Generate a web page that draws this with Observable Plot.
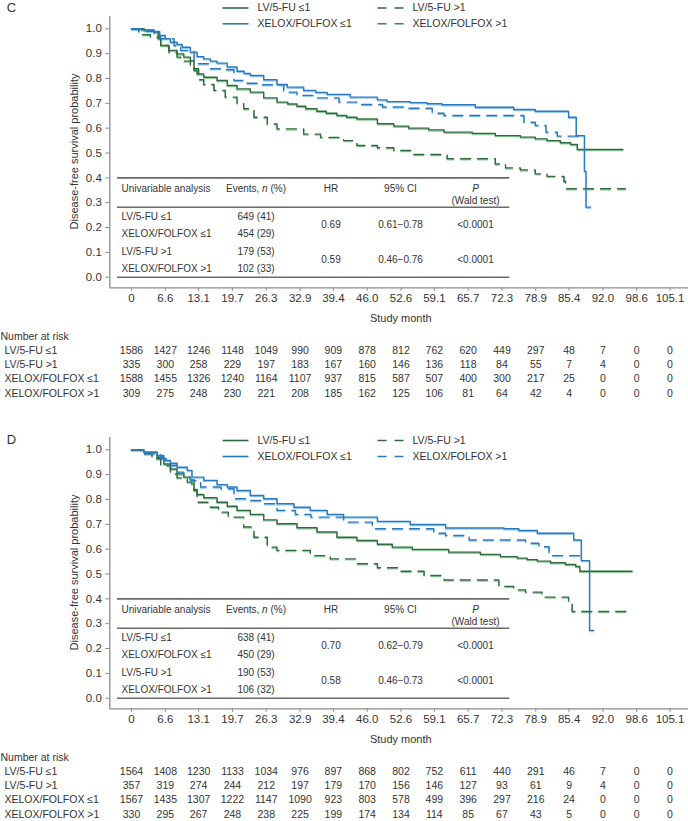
<!DOCTYPE html>
<html><head><meta charset="utf-8">
<script src="https://cdn.jsdelivr.net/npm/d3@7"></script>
<script src="https://cdn.jsdelivr.net/npm/@observablehq/plot@0.6"></script>
<style>
body{margin:0;background:#fff;}
#fig{width:688px;height:821px;position:relative;overflow:hidden;background:#fff;}
#fig svg{display:block;}
</style></head><body><div id="fig"></div>
<script>
// ---------- data ----------
const xTickLabels = ["0","6.6","13.1","19.7","26.3","32.9","39.4","46.0","52.6","59.1","65.7","72.3","78.9","85.4","92.0","98.6","105.1"];
const yTickValues = [0,0.1,0.2,0.3,0.4,0.5,0.6,0.7,0.8,0.9,1.0];
const groupLabels = ["LV/5-FU ≤1","LV/5-FU >1","XELOX/FOLFOX ≤1","XELOX/FOLFOX >1"];
const statsHeader = ["Univariable analysis","Events, n (%)","HR","95% CI","P","(Wald test)"];

// Panel C curves (month, survival)
const C_LVle1_t = [0,2.5,4.4,5.2,5.7,7.3,8.9,10.2,11.5,12.2,12.8,14.1,16.7,18.7,20.6,23.2,25.8,28.4,30.5,32.3,34.0,36.2,38.0,40.1,42.0,44.0,48.0,51.2,54.1,58.0,61.0,66.5,71.0,75.9,78.8,81.1,83.7,85.7,87.0,95.9];
const C_LVle1_s = [1.0,0.993,0.987,0.960,0.933,0.913,0.899,0.886,0.872,0.832,0.818,0.805,0.792,0.772,0.758,0.745,0.722,0.705,0.697,0.688,0.678,0.668,0.660,0.651,0.644,0.637,0.618,0.608,0.600,0.593,0.584,0.579,0.570,0.564,0.557,0.550,0.541,0.534,0.514,0.514];
const C_LVgt1_t = [0,1.4,3.7,5.7,7.3,8.9,9.6,11.5,13.1,14.1,16.1,18.3,20.6,21.9,23.9,26.5,28.4,33.6,36.9,41.4,44.0,48.0,51.2,55.1,61.6,71.0,73.0,75.9,78.8,81.1,84.4,84.7,96.4];
const C_LVgt1_s = [1.0,0.976,0.966,0.933,0.906,0.886,0.870,0.839,0.795,0.776,0.752,0.725,0.698,0.678,0.644,0.617,0.597,0.576,0.563,0.550,0.530,0.521,0.510,0.494,0.477,0.456,0.440,0.432,0.416,0.406,0.386,0.356,0.356];
const C_XEle1_t = [0,2.0,4.4,5.5,6.6,7.6,8.9,9.9,11.5,12.8,14.1,15.4,16.7,18.7,20.6,22.0,23.2,25.8,28.4,30.4,33.6,36.0,38.2,42.7,48.0,49.9,54.4,57.7,60.6,67.1,74.6,78.8,85.3,86.8,88.4,88.7,89.6];
const C_XEle1_s = [1.0,0.995,0.989,0.973,0.960,0.946,0.937,0.926,0.906,0.888,0.879,0.870,0.862,0.846,0.829,0.820,0.812,0.795,0.776,0.765,0.752,0.744,0.736,0.725,0.714,0.707,0.703,0.698,0.694,0.684,0.675,0.668,0.644,0.570,0.426,0.282,0.282];
const C_XEgt1_t = [0,2.5,4.4,5.5,8.3,9.6,12.2,15.4,17.4,20.0,21.9,25.5,29.7,32.3,36.0,40.5,44.0,49.0,53.5,58.7,61.0,76.6,78.8,80.9,83.1,88.3];
const C_XEgt1_s = [1.0,0.990,0.979,0.960,0.933,0.913,0.859,0.839,0.835,0.792,0.781,0.775,0.745,0.732,0.722,0.705,0.695,0.685,0.680,0.660,0.651,0.624,0.611,0.584,0.568,0.568];

// Panel D curves
const D_LVle1_t = [0,2.4,5.0,6.3,7.6,8.9,10.2,11.5,12.2,12.8,14.1,16.7,18.7,20.6,23.2,25.8,28.4,32.3,36.2,40.1,44.0,48.0,50.9,54.8,61.9,68.1,72.0,75.3,77.2,79.2,81.8,84.7,86.7,87.5,97.7];
const D_LVle1_s = [1.0,0.990,0.970,0.943,0.923,0.903,0.890,0.879,0.836,0.820,0.807,0.789,0.773,0.756,0.740,0.718,0.702,0.686,0.669,0.648,0.635,0.620,0.608,0.599,0.588,0.579,0.570,0.564,0.558,0.552,0.545,0.538,0.530,0.511,0.511];
const D_LVgt1_t = [0,1.8,4.0,5.7,7.6,8.9,10.9,11.8,12.8,15.4,17.0,18.9,21.9,23.9,26.5,28.4,34.9,38.8,44.0,48.0,51.9,57.1,61.0,71.7,74.6,76.9,80.1,85.3,86.0,97.4];
const D_LVgt1_s = [1.0,0.984,0.964,0.937,0.903,0.887,0.870,0.840,0.789,0.769,0.749,0.729,0.689,0.648,0.608,0.595,0.574,0.561,0.541,0.525,0.511,0.494,0.476,0.450,0.436,0.427,0.407,0.383,0.349,0.349];
const D_XEle1_t = [0,2.4,5.0,6.3,7.6,8.9,10.9,11.8,14.1,16.7,18.7,20.6,23.2,25.8,28.4,31.7,34.9,38.2,41.4,48.0,54.4,61.3,72.7,75.6,79.2,86.3,87.8,89.4,90.2];
const D_XEle1_s = [1.0,0.990,0.977,0.957,0.946,0.930,0.917,0.890,0.877,0.860,0.850,0.836,0.816,0.803,0.783,0.769,0.756,0.740,0.729,0.712,0.699,0.685,0.682,0.675,0.664,0.637,0.554,0.273,0.273];
const D_XEgt1_t = [0,2.4,5.7,7.0,8.9,10.2,11.5,13.5,17.5,20.0,23.2,25.8,28.4,32.0,35.0,41.4,47.0,59.0,61.3,65.9,76.9,79.5,81.5,82.1,88.3];
const D_XEgt1_s = [1.0,0.984,0.964,0.937,0.910,0.890,0.877,0.850,0.843,0.803,0.796,0.783,0.756,0.740,0.729,0.709,0.682,0.664,0.655,0.637,0.624,0.610,0.588,0.574,0.574];

// Number at risk (order: LV ≤1, LV >1, XELOX ≤1, XELOX >1)
const C_risk_LVle1 = [1586,1427,1246,1148,1049,990,909,878,812,762,620,449,297,48,7,0,0];
const C_risk_LVgt1 = [335,300,258,229,197,183,167,160,146,136,118,84,55,7,4,0,0];
const C_risk_XEle1 = [1588,1455,1326,1240,1164,1107,937,815,587,507,400,300,217,25,0,0,0];
const C_risk_XEgt1 = [309,275,248,230,221,208,185,162,125,106,81,64,42,4,0,0,0];
const D_risk_LVle1 = [1564,1408,1230,1133,1034,976,897,868,802,752,611,440,291,46,7,0,0];
const D_risk_LVgt1 = [357,319,274,244,212,197,179,170,156,146,127,93,61,9,4,0,0];
const D_risk_XEle1 = [1567,1435,1307,1222,1147,1090,923,803,578,499,396,297,216,24,0,0,0];
const D_risk_XEgt1 = [330,295,267,248,238,225,199,174,134,114,85,67,43,5,0,0,0];

// Univariable analysis tables (rows: LV ≤1, XELOX ≤1, LV >1, XELOX >1)
const C_events = ["649 (41)","454 (29)","179 (53)","102 (33)"];
const C_hr = ["0.69","0.59"];
const C_ci = ["0.61−0.78","0.46−0.76"];
const C_p = ["<0.0001","<0.0001"];
const D_events = ["638 (41)","450 (29)","190 (53)","106 (32)"];
const D_hr = ["0.70","0.58"];
const D_ci = ["0.62−0.79","0.46−0.73"];
const D_p = ["<0.0001","<0.0001"];

// ---------- layout ----------
const W = 688;
const X0PX = 131, PX_PER_MONTH = 5.124;
const Y1PX = 28.3, Y0PX = 276.7, PX_PER_UNIT = Y0PX - Y1PX;
const FRAME_TOP = 16, AXIS_PX = 287.3, FRAME_LEFT = 109.3;
const px2x = px => (px - X0PX) / PX_PER_MONTH;
const py2y = py => (Y0PX - py) / PX_PER_UNIT;
const xDomain = [px2x(FRAME_LEFT), px2x(W)];
const yDomain = [py2y(AXIS_PX), py2y(FRAME_TOP)];
const xTickValues = xTickLabels.map(Number);
const tickLabelOf = new Map(xTickValues.map((v, i) => [v, xTickLabels[i]]));

const GREEN = "#2d6b3c", GREEN_L = "#93cc9c", BLUE = "#2a79be", BLUE_L = "#95c9ee";
const AXIS = "#8c8c8c", TXT = "#333";
const groupColor = [GREEN, GREEN, BLUE, BLUE];
const groupHalo = [GREEN_L, GREEN_L, BLUE_L, BLUE_L];
const groupDash = [null, "10,7", null, "10,7"];
const statsOrder = [0, 2, 1, 3];

function makePanel(cfg) {
  const H = cfg.height;
  const marks = [];
  // axis lines
  marks.push(Plot.ruleX([xDomain[0]], {stroke: AXIS, strokeWidth: 1.3}));
  marks.push(Plot.ruleY([yDomain[0]], {stroke: AXIS, strokeWidth: 1.3}));
  marks.push(Plot.axisY({ticks: yTickValues, tickFormat: d3.format(".1f"), tickSize: 4, tickPadding: 4, fontSize: 11.5, stroke: AXIS, fill: TXT, label: null}));
  marks.push(Plot.axisX({ticks: xTickValues, tickFormat: d => tickLabelOf.get(d), tickSize: 3.5, tickPadding: 3, fontSize: 11.5, stroke: AXIS, fill: TXT, label: null}));
  marks.push(Plot.text(["Disease-free survival probability"], {x: px2x(74), y: py2y(151), rotate: -90, fontSize: 11, fill: TXT}));
  marks.push(Plot.text(["Study month"], {x: (xTickValues[0] + xTickValues[xTickValues.length - 1]) / 2, y: py2y(318), fontSize: 11, fill: TXT}));

  // univariable table
  const tL = px2x(117), tR = px2x(509.3);
  marks.push(Plot.ruleY([0.4, py2y(206.7), 0], {x1: tL, x2: tR, stroke: "#6a6a6a", strokeWidth: 1.6}));
  const colLabel = px2x(121), colEv = px2x(255.5), colHR = px2x(330.5), colCI = px2x(400), colP = px2x(475);
  const hy = py2y(188.3);
  marks.push(Plot.text([statsHeader[0]], {x: colLabel, y: hy, textAnchor: "start", fontSize: 10, fill: TXT}));
  marks.push(Plot.text([statsHeader[1]], {x: colEv, y: hy, fontSize: 10, fill: TXT}));
  marks.push(Plot.text([statsHeader[2]], {x: colHR, y: hy, fontSize: 10, fill: TXT}));
  marks.push(Plot.text([statsHeader[3]], {x: colCI, y: hy, fontSize: 10, fill: TXT}));
  marks.push(Plot.text([statsHeader[4]], {x: colP, y: hy, fontSize: 10, fill: TXT, fontStyle: "italic"}));
  marks.push(Plot.text([statsHeader[5]], {x: colP, y: py2y(200), fontSize: 10, fill: TXT}));
  const rows = statsOrder.map((g, r) => ({label: groupLabels[g], ev: cfg.events[r], y: py2y(216 + r * 17.5)}));
  marks.push(Plot.text(rows, {x: colLabel, y: "y", text: "label", textAnchor: "start", fontSize: 10, fill: TXT}));
  marks.push(Plot.text(rows, {x: colEv, y: "y", text: "ev", fontSize: 10, fill: TXT}));
  const pairs = cfg.hr.map((h, k) => ({hr: h, ci: cfg.ci[k], p: cfg.p[k], y: py2y(224.75 + k * 35)}));
  marks.push(Plot.text(pairs, {x: colHR, y: "y", text: "hr", fontSize: 10, fill: TXT}));
  marks.push(Plot.text(pairs, {x: colCI, y: "y", text: "ci", fontSize: 10, fill: TXT}));
  marks.push(Plot.text(pairs, {x: colP, y: "y", text: "p", fontSize: 10, fill: TXT}));

  // curves
  const curves = cfg.curves.map((c, g) => c.t.map((t, i) => ({t, s: c.s[i], g})));
  curves.forEach((d, g) => {
    marks.push(Plot.line(d, {x: "t", y: "s", curve: "step-after", stroke: groupHalo[g], strokeWidth: 1.3, dy: 1.1, strokeDasharray: groupDash[g]}));
  });
  curves.forEach((d, g) => {
    marks.push(Plot.line(d, {x: "t", y: "s", curve: "step-after", stroke: groupColor[g], strokeWidth: 1.4, strokeDasharray: groupDash[g]}));
  });

  // legend
  const sx1 = [222, 377], sx2 = [248, 403], tx = [257, 412];
  const leg = groupLabels.map((lab, g) => ({lab, g, x1: px2x(sx1[g % 2]), x2: px2x(sx2[g % 2]), xt: px2x(tx[g % 2]), y: py2y(cfg.legendY[Math.floor(g / 2)])}));
  leg.forEach(d => {
    marks.push(Plot.link([d], {x1: "x1", x2: "x2", y1: "y", y2: "y", stroke: groupColor[d.g], strokeWidth: 1.6, strokeDasharray: groupDash[d.g] ? "9,8" : null}));
  });
  marks.push(Plot.text(leg, {x: "xt", y: "y", text: "lab", textAnchor: "start", fontSize: 10.5, fill: TXT}));

  // panel letter
  marks.push(Plot.text([cfg.letter], {x: px2x(11), y: py2y(cfg.letterY), fontSize: 13, fill: TXT}));

  // number at risk
  marks.push(Plot.text(["Number at risk"], {x: px2x(0), y: py2y(336.5), textAnchor: "start", fontSize: 10.5, fill: TXT}));
  const rowY = r => py2y(350 + r * 14.3);
  marks.push(Plot.text(groupLabels.map((l, r) => ({l, y: rowY(r)})), {x: px2x(4), y: "y", text: "l", textAnchor: "start", fontSize: 10.5, fill: TXT}));
  const riskCells = cfg.risk.flatMap((arr, r) => arr.map((n, j) => ({x: xTickValues[j], y: rowY(r), n: String(n)})));
  marks.push(Plot.text(riskCells, {x: "x", y: "y", text: "n", fontSize: 10.5, fill: TXT}));

  const svg = Plot.plot({
    width: W, height: H,
    marginLeft: FRAME_LEFT, marginRight: 0, marginTop: FRAME_TOP, marginBottom: H - AXIS_PX,
    x: {domain: xDomain}, y: {domain: yDomain},
    style: {fontFamily: "'Liberation Sans', Arial, sans-serif", fontSize: "10.5px", color: TXT, background: "#fff", overflow: "visible"},
    marks
  });
  // italic n in "Events, n (%)"
  svg.querySelectorAll("text").forEach(t => {
    if (t.textContent === statsHeader[1]) {
      t.textContent = "";
      const parts = [["Events, ", null], ["n", "italic"], [" (%)", null]];
      parts.forEach(([s, st]) => {
        const ts = document.createElementNS("http://www.w3.org/2000/svg", "tspan");
        ts.textContent = s;
        if (st) ts.setAttribute("font-style", st);
        t.appendChild(ts);
      });
    }
  });
  return svg;
}

const fig = document.getElementById("fig");
fig.appendChild(makePanel({
  letter: "C", letterY: 7.5, legendY: [7.5, 23.3], height: 421,
  curves: [{t: C_LVle1_t, s: C_LVle1_s}, {t: C_LVgt1_t, s: C_LVgt1_s}, {t: C_XEle1_t, s: C_XEle1_s}, {t: C_XEgt1_t, s: C_XEgt1_s}],
  risk: [C_risk_LVle1, C_risk_LVgt1, C_risk_XEle1, C_risk_XEgt1],
  events: C_events, hr: C_hr, ci: C_ci, p: C_p
}));
fig.appendChild(makePanel({
  letter: "D", letterY: 18.5, legendY: [19, 35], height: 400,
  curves: [{t: D_LVle1_t, s: D_LVle1_s}, {t: D_LVgt1_t, s: D_LVgt1_s}, {t: D_XEle1_t, s: D_XEle1_s}, {t: D_XEgt1_t, s: D_XEgt1_s}],
  risk: [D_risk_LVle1, D_risk_LVgt1, D_risk_XEle1, D_risk_XEgt1],
  events: D_events, hr: D_hr, ci: D_ci, p: D_p
}));
</script></body></html>
